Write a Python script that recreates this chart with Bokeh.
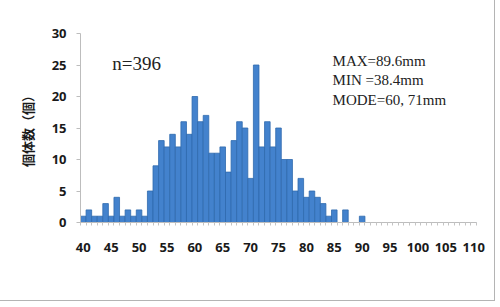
from bokeh.plotting import figure
from bokeh.models import FixedTicker, Label, ColumnDataSource
from bokeh.embed import file_html
from bokeh.resources import INLINE

# Shell length bins (mm) and number of individuals
lengths = list(range(40, 111))
counts = [1, 2, 1, 1, 3, 1, 4, 1, 2, 1, 2, 1,
          5, 9, 13, 12, 14, 12, 16, 14,
          20, 16, 17, 11, 11, 12, 8, 13, 16, 15,
          7, 25, 12, 16, 12, 15, 10, 10,
          5, 7, 4, 5, 4, 3, 1, 2, 0, 2, 0, 0, 1] + [0] * 20
x_tick_values = list(range(40, 111, 5))
y_tick_values = list(range(0, 31, 5))
n_label = "n=396"
stats_lines = ["MAX=89.6mm", "MIN =38.4mm", "MODE=60, 71mm"]

src = ColumnDataSource(data=dict(x=lengths, y=counts))

p = figure(width=494, height=300, x_range=(39.5, 110.5), y_range=(0, 30),
           output_backend="svg", toolbar_location=None,
           min_border_left=80, min_border_right=18,
           min_border_top=33, min_border_bottom=78)
p.styles = {"outline": "1px solid #b4b4b4"}
p.outline_line_color = None
p.xgrid.visible = False
p.ygrid.visible = False
p.background_fill_color = "white"
p.border_fill_color = "white"

p.vbar(x="x", top="y", width=1.0, source=src,
       fill_color="#4382cd", line_color="#2f69ad", line_width=0.8)

# x axis
p.xaxis.ticker = FixedTicker(ticks=x_tick_values,
                             minor_ticks=[v + 0.5 for v in range(39, 111)])
p.xaxis.axis_line_color = "#bdbdbd"
p.xaxis.major_tick_out = 0
p.xaxis.major_tick_in = 0
p.xaxis.minor_tick_out = 3
p.xaxis.minor_tick_in = 0
p.xaxis.minor_tick_line_color = "#c4c4c4"
p.xaxis.major_label_standoff = 17
p.xaxis.major_label_text_font = "Open Sans"
p.xaxis.major_label_text_font_size = "13px"
p.xaxis.major_label_text_font_style = "bold"
p.xaxis.major_label_text_color = "#1a1a1a"

# y axis
p.yaxis.ticker = FixedTicker(ticks=y_tick_values)
p.yaxis.axis_line_color = "#bdbdbd"
p.yaxis.major_tick_out = 4
p.yaxis.major_tick_in = 0
p.yaxis.minor_tick_out = 0
p.yaxis.major_tick_line_color = "#bdbdbd"
p.yaxis.major_label_standoff = 10
p.yaxis.major_label_text_font = "Open Sans"
p.yaxis.major_label_text_font_size = "13px"
p.yaxis.major_label_text_font_style = "bold"
p.yaxis.major_label_text_color = "#1a1a1a"
p.yaxis.axis_label = "個体数（個）"
p.yaxis.axis_label_text_font = "Noto Sans CJK JP"
p.yaxis.axis_label_text_font_size = "13px"
p.yaxis.axis_label_text_font_style = "bold"
p.yaxis.axis_label_text_color = "#1a1a1a"
p.yaxis.axis_label_standoff = 12

# x axis title
p.add_layout(Label(x=70.3, x_units="data", y=-52, y_units="screen",
                   text="殻長（mm）", text_align="center", text_baseline="middle",
                   text_font="Noto Sans CJK JP", text_font_size="13px",
                   text_font_style="bold", text_color="#1a1a1a"))

# annotations
p.add_layout(Label(x=45.2, y=25.2, text=n_label, text_align="left",
                   text_baseline="middle", text_font="Liberation Serif",
                   text_font_size="19px", text_color="#222222"))
for i, s in enumerate(stats_lines):
    p.add_layout(Label(x=84.7, y=25.7 - i * 3.15, text=s, text_align="left",
                       text_baseline="middle", text_font="Liberation Serif",
                       text_font_size="15px", text_color="#222222"))

open("out.html", "w").write(file_html(p, INLINE))
